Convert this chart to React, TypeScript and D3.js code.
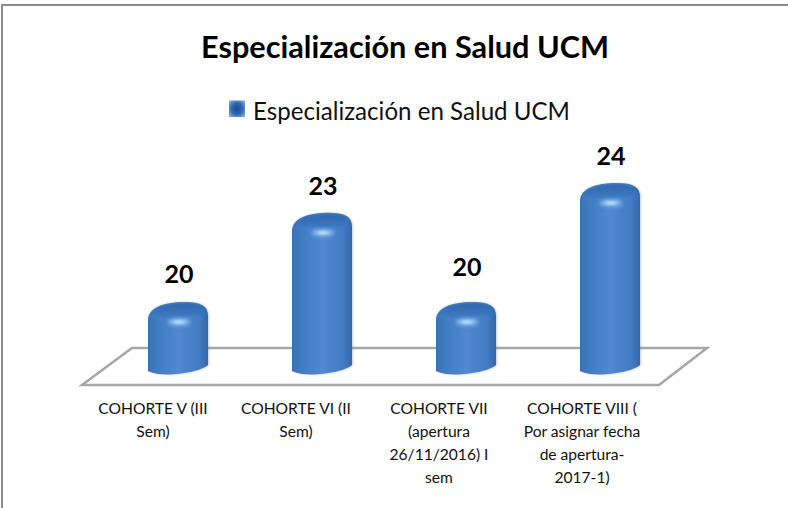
import React from "react";
import * as d3 from "d3";

const chartTitle = "Especialización en Salud UCM";
const seriesName = "Especialización en Salud UCM";
const categories = ["V", "VI", "VII", "VIII"];
const values = [20, 23, 20, 24];
const tickLines = [
  ["COHORTE V (III", "Sem)"],
  ["COHORTE VI (II", "Sem)"],
  ["COHORTE VII", "(apertura", "26/11/2016) I", "sem"],
  ["COHORTE VIII (", "Por asignar fecha", "de apertura-", "2017-1)"],
];
const labelNudge = [-1, 0, -8, 0];

const x = d3.scalePoint<string>().domain(categories).range([178, 610]);
const xLabel = d3.scalePoint<string>().domain(categories).range([153, 582]);
const y = d3.scaleLinear().domain([20, 24]).range([302, 183]);

const W = 60;
const FONT = "Lato, 'Open Sans', sans-serif";

function barPath(cx: number, top: number) {
  const l = cx - W / 2, r = cx + W / 2;
  const bottomL = 371, bottomR = 365;
  return `M${l},${bottomL} L${l},${top + 18}
    C${l},${top + 7} ${l + 13},${top} ${l + 37},${top}
    C${r - 7},${top} ${r},${top + 4} ${r},${top + 14}
    L${r},${bottomR}
    C${r - 6},${bottomR + 6} ${l + 28},${bottomR + 11} ${l + 10},${bottomR + 9}
    C${l + 5},${bottomR + 8} ${l + 2},${bottomL + 1} ${l},${bottomL} Z`;
}

function capPath(cx: number, top: number) {
  const l = cx - W / 2, r = cx + W / 2;
  return `M${l + 2},${top + 15}
    C${l + 4},${top + 6} ${l + 15},${top + 1} ${l + 37},${top + 1}
    C${r - 8},${top + 1} ${r - 2},${top + 5} ${r - 2},${top + 10}
    C${r - 12},${top + 15} ${l + 14},${top + 20} ${l + 2},${top + 15} Z`;
}

export default function App() {
  return (
    <svg
      width={788}
      height={508}
      style={{ position: "absolute", left: 0, top: 0, background: "#fff" }}
    >
      <defs>
        <linearGradient id="body" x1="0" x2="1" y1="0" y2="0">
          <stop offset="0" stopColor="#3a70b4" />
          <stop offset="0.12" stopColor="#3f7abf" />
          <stop offset="0.5" stopColor="#5089d0" />
          <stop offset="0.85" stopColor="#427cc3" />
          <stop offset="1" stopColor="#3568a8" />
        </linearGradient>
        <linearGradient id="cap" x1="0" x2="0" y1="0" y2="1">
          <stop offset="0" stopColor="#3168ad" />
          <stop offset="0.75" stopColor="#3b76bf" />
          <stop offset="1" stopColor="#4683cc" />
        </linearGradient>
        <radialGradient id="swatch" cx="0.5" cy="0.5" r="0.62">
          <stop offset="0" stopColor="#1d4c8c" />
          <stop offset="0.55" stopColor="#2f68ad" />
          <stop offset="1" stopColor="#7ea8d8" />
        </radialGradient>
        <filter id="soft" x="-60%" y="-150%" width="220%" height="400%">
          <feGaussianBlur stdDeviation="2.2" />
        </filter>
        <filter id="capBlur" x="-10%" y="-30%" width="120%" height="160%">
          <feGaussianBlur stdDeviation="1.2" />
        </filter>
        <filter id="shadow" x="-20%" y="-20%" width="140%" height="140%">
          <feGaussianBlur stdDeviation="1" />
        </filter>
        <filter id="slight" x="-5%" y="-5%" width="110%" height="110%">
          <feGaussianBlur stdDeviation="0.5" />
        </filter>
      </defs>

      <path d="M2,508 V5 H788" fill="none" stroke="#8c8c8c" strokeWidth={2} />

      <text
        x={405}
        y={58}
        textAnchor="middle"
        fontFamily={FONT}
        fontWeight={700}
        fontSize={30}
        textLength={408}
        lengthAdjust="spacingAndGlyphs"
        fill="#000"
      >
        {chartTitle}
      </text>

      <rect x={229} y={100.5} width={16} height={16.5} fill="url(#swatch)" filter="url(#slight)" />
      <text
        x={253}
        y={120}
        fontFamily={FONT}
        fontSize={25}
        textLength={317}
        lengthAdjust="spacingAndGlyphs"
        fill="#111"
      >
        {seriesName}
      </text>

      <path
        d="M82,385 L132,348 H707 L659,385 Z"
        fill="#fff"
        stroke="#a6a6a6"
        strokeWidth={2.5}
        strokeLinejoin="miter"
      />

      {categories.map((c, i) => {
        const cx = x(c)!;
        const top = y(values[i]);
        return (
          <g key={c}>
            <path
              d={barPath(cx + 1, top + 1)}
              fill="#777"
              opacity={0.4}
              filter="url(#shadow)"
            />
            <path d={barPath(cx, top)} fill="url(#body)" filter="url(#slight)" />
            <path d={capPath(cx, top)} fill="url(#cap)" filter="url(#capBlur)" />
            <ellipse cx={cx + 1} cy={top + 20} rx={11} ry={2.8} fill="#a9d2fa" filter="url(#soft)" />
            <ellipse cx={cx + 1} cy={top + 20} rx={5} ry={1.3} fill="#b9e0ff" filter="url(#capBlur)" />
            <text
              x={cx + 1}
              y={top - 18 + labelNudge[i]}
              textAnchor="middle"
              fontFamily={FONT}
              fontWeight={700}
              fontSize={25}
              fill="#000"
            >
              {values[i]}
            </text>
            <g>
              {tickLines[i].map((line, k) => (
                <text
                  key={k}
                  x={xLabel(c)!}
                  y={414 + k * 23}
                  textAnchor="middle"
                  fontFamily={FONT}
                  fontSize={15.6}
                  fill="#111"
                >
                  {line}
                </text>
              ))}
            </g>
          </g>
        );
      })}
    </svg>
  );
}
